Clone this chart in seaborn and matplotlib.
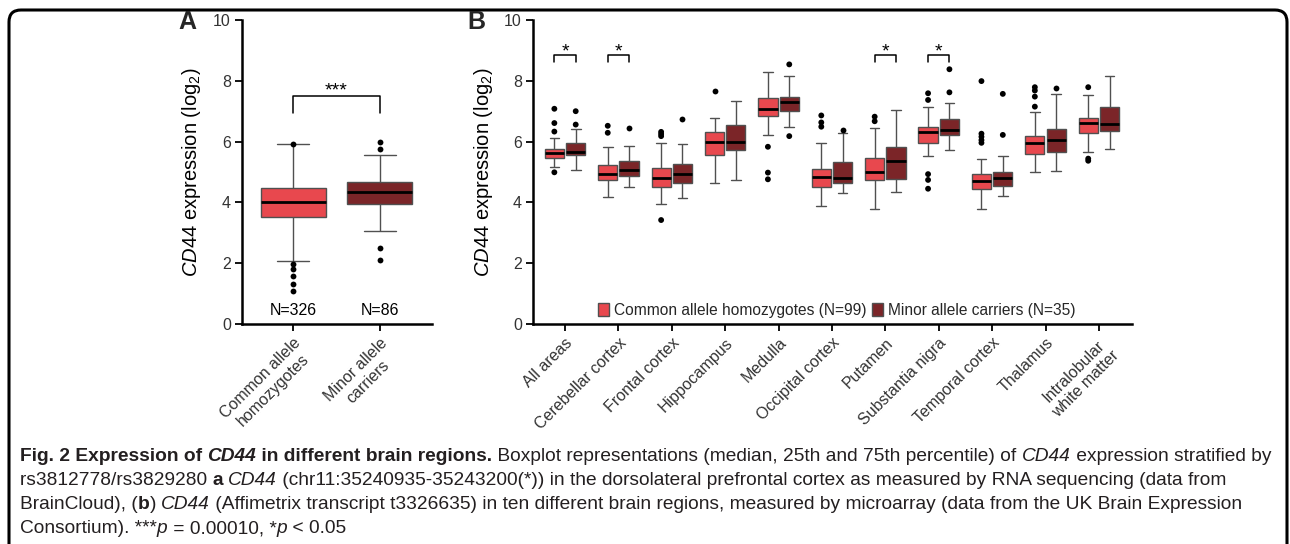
import pandas as pd
import matplotlib.pyplot as plt
import matplotlib.transforms as mtransforms
from matplotlib.patches import FancyBboxPatch
import seaborn as sns

OUTPUT_IMG = "out.png"

COMMON_COLOR = "#E8484E"
MINOR_COLOR = "#7B2528"
EDGE_COLOR = "#505050"
TEXT_COLOR = "#333333"

# --- Panel A: dorsolateral prefrontal cortex (BrainCloud) ---
A_GROUPS = ["Common allele\nhomozygotes", "Minor allele\ncarriers"]
A_N = ["N=326", "N=86"]
A_LO = [2.07, 3.05]
A_Q1 = [3.51, 3.96]
A_MED = [4.01, 4.34]
A_Q3 = [4.46, 4.67]
A_HI = [5.91, 5.56]
A_OUT = [[5.92, 1.97, 1.80, 1.58, 1.33, 1.09], [6.00, 5.76, 2.49, 2.11]]

# --- Panel B: ten brain regions (UK Brain Expression Consortium) ---
REGIONS = ["All areas", "Cerebellar cortex", "Frontal cortex", "Hippocampus",
           "Medulla", "Occipital cortex", "Putamen", "Substantia nigra",
           "Temporal cortex", "Thalamus", "Intralobular\nwhite matter"]
GENOTYPES = ["Common allele homozygotes (N=99)", "Minor allele carriers (N=35)"]

COMMON_LO = [5.15, 4.17, 3.95, 4.65, 6.21, 3.88, 3.78, 5.54, 3.79, 4.99, 5.67]
COMMON_Q1 = [5.46, 4.73, 4.50, 5.57, 6.84, 4.52, 4.73, 5.96, 4.43, 5.60, 6.29]
COMMON_MED = [5.61, 4.95, 4.80, 5.98, 7.08, 4.85, 4.99, 6.30, 4.71, 5.95, 6.60]
COMMON_Q3 = [5.76, 5.23, 5.13, 6.33, 7.43, 5.11, 5.45, 6.47, 4.95, 6.20, 6.79]
COMMON_HI = [6.11, 5.83, 5.96, 6.78, 8.28, 5.94, 6.44, 7.15, 5.44, 6.96, 7.53]
COMMON_OUT = [[7.08, 6.61, 6.33, 4.99], [6.52, 6.29], [6.32, 6.25, 6.18, 3.42],
              [7.66], [5.83, 4.98, 4.76], [6.86, 6.63, 6.49], [6.82, 6.67],
              [7.59, 7.37, 4.93, 4.74, 4.45], [7.99, 6.26, 6.16, 6.05, 5.96],
              [7.79, 7.68, 7.48, 7.15], [7.79, 5.44, 5.37]]

MINOR_LO = [5.08, 4.50, 4.13, 4.74, 6.49, 4.32, 4.34, 5.71, 4.22, 5.02, 5.75]
MINOR_Q1 = [5.55, 4.88, 4.65, 5.71, 7.00, 4.65, 4.77, 6.21, 4.55, 5.65, 6.36]
MINOR_MED = [5.67, 5.07, 4.95, 5.98, 7.29, 4.81, 5.35, 6.38, 4.81, 6.05, 6.59]
MINOR_Q3 = [5.95, 5.37, 5.25, 6.54, 7.48, 5.32, 5.82, 6.74, 4.99, 6.43, 7.15]
MINOR_HI = [6.43, 5.87, 5.92, 7.35, 8.16, 6.27, 7.05, 7.26, 5.54, 7.58, 8.15]
MINOR_OUT = [[7.00, 6.56], [6.44], [6.75], [], [8.54, 6.18], [6.38], [],
             [8.38, 7.62], [7.57, 6.22], [7.76], []]

SIG_REGIONS = ["All areas", "Cerebellar cortex", "Putamen", "Substantia nigra"]

CAPTION = [
    [("Fig. 2 Expression of ", "bold", "normal"), ("CD44", "bold", "italic"),
     (" in different brain regions.", "bold", "normal"),
     (" Boxplot representations (median, 25th and 75th percentile) of ", "normal", "normal"),
     ("CD44", "normal", "italic"), (" expression stratified by", "normal", "normal")],
    [("rs3812778/rs3829280 ", "normal", "normal"), ("a", "bold", "normal"), (" ", "normal", "normal"),
     ("CD44", "normal", "italic"),
     (" (chr11:35240935-35243200(*)) in the dorsolateral prefrontal cortex as measured by RNA sequencing (data from",
      "normal", "normal")],
    [("BrainCloud), (", "normal", "normal"), ("b", "bold", "normal"), (") ", "normal", "normal"),
     ("CD44", "normal", "italic"),
     (" (Affimetrix transcript t3326635) in ten different brain regions, measured by microarray (data from the UK Brain Expression",
      "normal", "normal")],
    [("Consortium). ***", "normal", "normal"), ("p", "normal", "italic"),
     (" = 0.00010, *", "normal", "normal"), ("p", "normal", "italic"), (" < 0.05", "normal", "normal")],
]


def summary_rows(cat_col, cats, lo, q1, med, q3, hi, extra=None):
    # five values per box: quartiles land exactly on q1/median/q3,
    # whiskers are drawn to min/max (whis=(0, 100))
    rows = []
    for i, cat in enumerate(cats):
        for v in (lo[i], q1[i], med[i], q3[i], hi[i]):
            row = {cat_col: cat, "expr": v}
            if extra:
                row.update(extra)
            rows.append(row)
    return rows


def outlier_rows(cat_col, cats, outs, extra=None):
    rows = []
    for i, cat in enumerate(cats):
        for v in outs[i]:
            row = {cat_col: cat, "expr": v}
            if extra:
                row.update(extra)
            rows.append(row)
    return rows


def style_axis(ax):
    sns.despine(ax=ax)
    for side in ("left", "bottom"):
        ax.spines[side].set_linewidth(1.8)
        ax.spines[side].set_color("black")
    ax.tick_params(axis="both", direction="out", length=5, width=1.3, color="black",
                   labelcolor=TEXT_COLOR, labelsize=11.5, pad=3)
    ax.set_ylim(0, 10)
    ax.set_yticks([0, 2, 4, 6, 8, 10])
    ax.set_ylabel(r"$\mathit{CD44}$ expression (log$_2$)", fontsize=14.5, color="black")
    ax.set_xlabel("")


def text_width(fig, renderer, s, **kw):
    # measure with a sentinel so trailing spaces are counted
    t1 = fig.text(0, 0, s + "|", **kw)
    t2 = fig.text(0, 0, "|", **kw)
    w = t1.get_window_extent(renderer).width - t2.get_window_extent(renderer).width
    t1.remove()
    t2.remove()
    return w


def plot_figure():
    sns.set_style("ticks")
    plt.rcParams["font.family"] = ["Liberation Sans", "DejaVu Sans"]
    plt.rcParams["mathtext.fontset"] = "custom"
    plt.rcParams["mathtext.rm"] = "Liberation Sans"
    plt.rcParams["mathtext.it"] = "Liberation Sans:italic"
    plt.rcParams["mathtext.bf"] = "Liberation Sans:bold"

    fig = plt.figure(figsize=(12.9, 5.44), dpi=100)
    W, H = 1290, 544
    ax_a = fig.add_axes([242 / W, (H - 324) / H, 190 / W, 304 / H])
    ax_b = fig.add_axes([533 / W, (H - 324) / H, 599 / W, 304 / H])

    box_kw = dict(whis=(0, 100), showfliers=False, linecolor=EDGE_COLOR, linewidth=1,
                  saturation=1, medianprops={"color": "black", "linewidth": 2})

    # Panel A
    df_a = pd.DataFrame(summary_rows("group", A_GROUPS, A_LO, A_Q1, A_MED, A_Q3, A_HI))
    out_a = pd.DataFrame(outlier_rows("group", A_GROUPS, A_OUT))
    sns.boxplot(data=df_a, x="group", y="expr", hue="group", order=A_GROUPS,
                hue_order=A_GROUPS, palette=[COMMON_COLOR, MINOR_COLOR], width=0.75,
                legend=False, ax=ax_a, **box_kw)
    sns.stripplot(data=out_a, x="group", y="expr", order=A_GROUPS, color="black",
                  jitter=False, size=4.2, ax=ax_a)
    style_axis(ax_a)
    ax_a.set_xlim(-0.59, 1.6)
    ax_a.set_xticks(range(len(A_GROUPS)))
    ax_a.set_xticklabels(A_GROUPS, rotation=45, ha="right", rotation_mode="anchor",
                         multialignment="center")
    ax_a.yaxis.set_label_coords(-0.205, 0.5)
    for i, n in enumerate(A_N):
        ax_a.text(i, 0.46, n, ha="center", va="center", fontsize=11.5, color="black")
    ax_a.plot([0, 0, 1, 1], [6.93, 7.49, 7.49, 6.93], color="black", lw=1.1)
    ax_a.text(0.5, 7.40, "***", ha="center", va="bottom", fontsize=14, color="black")

    # Panel B
    df_b = pd.DataFrame(
        summary_rows("region", REGIONS, COMMON_LO, COMMON_Q1, COMMON_MED, COMMON_Q3, COMMON_HI,
                     {"genotype": GENOTYPES[0]})
        + summary_rows("region", REGIONS, MINOR_LO, MINOR_Q1, MINOR_MED, MINOR_Q3, MINOR_HI,
                       {"genotype": GENOTYPES[1]}))
    out_b = pd.DataFrame(
        outlier_rows("region", REGIONS, COMMON_OUT, {"genotype": GENOTYPES[0]})
        + outlier_rows("region", REGIONS, MINOR_OUT, {"genotype": GENOTYPES[1]}))
    sns.boxplot(data=df_b, x="region", y="expr", hue="genotype", order=REGIONS,
                hue_order=GENOTYPES, palette=[COMMON_COLOR, MINOR_COLOR], width=0.8,
                gap=0.1, ax=ax_b, **box_kw)
    sns.stripplot(data=out_b, x="region", y="expr", hue="genotype", order=REGIONS,
                  hue_order=GENOTYPES, palette=["black", "black"], dodge=True,
                  jitter=False, size=4.2, legend=False, ax=ax_b)
    style_axis(ax_b)
    ax_b.set_xlim(-0.6, 10.62)
    ax_b.set_xticks(range(len(REGIONS)))
    ax_b.set_xticklabels(REGIONS, rotation=45, ha="right", rotation_mode="anchor",
                         multialignment="center")
    ax_b.yaxis.set_label_coords(-0.063, 0.5)
    for r in SIG_REGIONS:
        i = REGIONS.index(r)
        ax_b.plot([i - 0.2, i - 0.2, i + 0.2, i + 0.2], [8.63, 8.85, 8.85, 8.63],
                  color="black", lw=1.1)
        ax_b.text(i, 8.68, "*", ha="center", va="bottom", fontsize=14, color="black")
    sns.move_legend(ax_b, loc="center", bbox_to_anchor=(0.507, 0.046), ncol=2,
                    frameon=False, title=None, fontsize=11.2, handlelength=0.7,
                    handleheight=0.9, handletextpad=0.3, columnspacing=0.4,
                    borderaxespad=0)

    # Panel letters
    fig.text(178 / W, 1 - 10 / H, "A", fontsize=18, fontweight="bold", va="top", ha="left")
    fig.text(467 / W, 1 - 10 / H, "B", fontsize=18, fontweight="bold", va="top", ha="left")

    # Rounded frame around the figure
    ident = mtransforms.IdentityTransform()
    frame = FancyBboxPatch((9, -40), 1278, H - 10 + 40, boxstyle="round,pad=0,rounding_size=12",
                           transform=ident, fill=False, lw=2.2, ec="black")
    fig.add_artist(frame)

    # Caption, drawn segment by segment so bold/italic runs can mix
    renderer = fig.canvas.get_renderer()
    cap_font = ["Liberation Sans", "DejaVu Sans"]

    def seg_kw(size, weight, style):
        return dict(fontsize=size, family=cap_font, fontweight=weight, fontstyle=style,
                    transform=ident)

    w12 = sum(text_width(fig, renderer, s, **seg_kw(12, wt, st)) for s, wt, st in CAPTION[0])
    cap_size = 12 * 1252 / w12
    baselines = [461, 485, 509, 533]
    for line, base in zip(CAPTION, baselines):
        x = 20
        for s, weight, style in line:
            kw = seg_kw(cap_size, weight, style)
            fig.text(x, H - base, s, va="baseline", ha="left", color="#231f20", **kw)
            x += text_width(fig, renderer, s, **kw)

    fig.savefig(OUTPUT_IMG, dpi=100)


if __name__ == "__main__":
    plot_figure()
